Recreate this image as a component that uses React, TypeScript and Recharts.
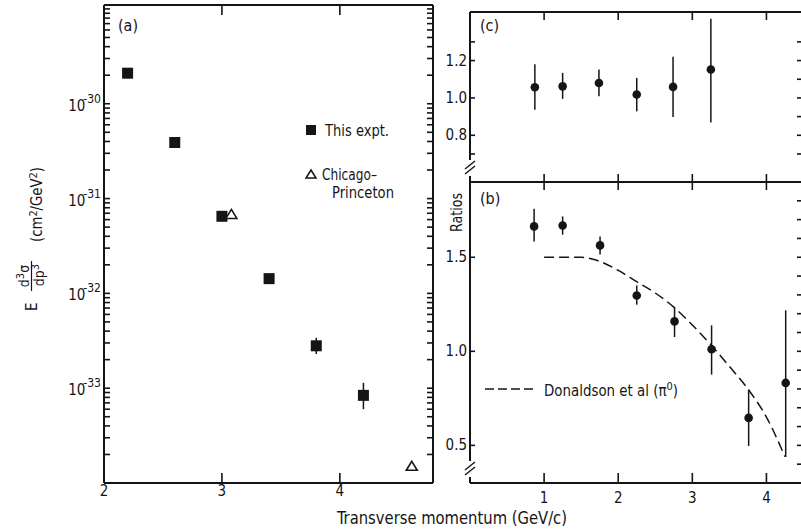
import React from 'react';
import { ScatterChart, ComposedChart, Scatter, Line, XAxis, YAxis, ErrorBar } from 'recharts';

const FONT = '"Liberation Sans Narrow", "DejaVu Sans Condensed", "Roboto Condensed", sans-serif';
const INK = '#151515';

// (a) invariant cross section, this experiment (pT in GeV/c, cm^2/GeV^2)
const ptA = [2.2, 2.6, 3.0, 3.4, 3.8, 4.2];
const sigmaA = [2.1e-30, 3.9e-31, 6.5e-32, 1.43e-32, 2.8e-33, 8.4e-34];
const sigmaLoA = [2.1e-30, 3.9e-31, 6.5e-32, 1.43e-32, 2.3e-33, 6.0e-34];
const sigmaHiA = [2.1e-30, 3.9e-31, 6.5e-32, 1.43e-32, 3.4e-33, 1.14e-33];

// (a) Chicago-Princeton
const ptCP = [3.08, 4.61];
const sigmaCP = [6.8e-32, 1.5e-34];

// (a) axis ticks
const decadesA = [-34, -33, -32, -31, -30];
const mantissasA = [1, 2, 3, 4, 5, 6, 7, 8, 9];
const labelledDecadesA = [-33, -32, -31, -30];
const xTicksA = [2, 3, 4];
const xTopTicksA = [3, 4];

// (c) ratios
const ptC = [0.875, 1.25, 1.74, 2.25, 2.74, 3.25];
const ratioC = [1.057, 1.062, 1.08, 1.018, 1.059, 1.152];
const ratioLoC = [0.937, 0.995, 1.009, 0.928, 0.898, 0.869];
const ratioHiC = [1.18, 1.134, 1.152, 1.107, 1.22, 1.424];

// (b) ratios
const ptB = [0.865, 1.25, 1.755, 2.25, 2.76, 3.26, 3.76, 4.26];
const ratioB = [1.664, 1.669, 1.563, 1.297, 1.159, 1.011, 0.646, 0.832];
const ratioLoB = [1.584, 1.62, 1.515, 1.248, 1.076, 0.876, 0.497, 0.439];
const ratioHiB = [1.758, 1.717, 1.61, 1.35, 1.235, 1.138, 0.797, 1.218];

// (b) Donaldson et al (pi0)
const donaldsonX = [1.0, 1.25, 1.5, 1.7, 2.0, 2.25, 2.5, 2.75, 3.0, 3.25, 3.5, 3.75, 4.0, 4.25];
const donaldsonY = [1.5, 1.5, 1.5, 1.485, 1.43, 1.37, 1.31, 1.235, 1.14, 1.035, 0.92, 0.8, 0.65, 0.44];

// right panels axis ticks
const xTicksR = [1, 2, 3, 4];
const yTicksCLeft = [0.7, 0.8, 1.0, 1.2, 1.3];
const yLabelsC = [0.8, 1.0, 1.2];
const yTicksCRight = [0.7, 0.8, 0.9, 1.0, 1.1, 1.2, 1.3];
const yTicksBLeft = [0.5, 1.0, 1.5];
const yTicksBRight = [0.4, 0.5, 0.6, 0.7, 0.8, 0.9, 1.0, 1.1, 1.2, 1.3, 1.4, 1.5, 1.6, 1.7, 1.8];

const withErr = (xs: number[], ys: number[], lo: number[], hi: number[]) =>
  xs.map((x, i) => ({ x, y: ys[i], err: [ys[i] - lo[i], hi[i] - ys[i]] }));

const dataA = withErr(ptA, sigmaA, sigmaLoA, sigmaHiA);
const dataCP = ptCP.map((x, i) => ({ x, y: sigmaCP[i] }));
const dataC = withErr(ptC, ratioC, ratioLoC, ratioHiC);
const dataB = withErr(ptB, ratioB, ratioLoB, ratioHiB);
const dataCurve = donaldsonX.map((x, i) => ({ x, y: donaldsonY[i] }));

const yTicksA = [
  ...decadesA.flatMap(d => mantissasA.map(m => m * Math.pow(10, d))),
  1e-29,
];

const axisLine = { stroke: INK, strokeWidth: 2 };

type Side = 'left' | 'right' | 'top' | 'bottom';
const inward: Record<Side, [number, number]> = { left: [1, 0], right: [-1, 0], top: [0, 1], bottom: [0, -1] };

// tick drawn by hand: the mark points into the plot, the label sits outside
const makeTick = (side: Side, len: number, label?: (v: number) => React.ReactNode, off = 0) => (p: any) => {
  const { x, y, payload } = p;
  const [dx, dy] = inward[side];
  const txt = label ? label(payload.value) : null;
  return (
    <g>
      <line x1={x} y1={y} x2={x + dx * len} y2={y + dy * len} stroke={INK} strokeWidth={1.6} />
      {txt !== null && txt !== '' && (side === 'left' ? (
        <text x={x - 3} y={y + off} textAnchor="end" fill={INK} fontFamily={FONT} fontSize={15}>{txt}</text>
      ) : (
        <text x={x} y={y + off} textAnchor="middle" fill={INK} fontFamily={FONT} fontSize={15}>{txt}</text>
      ))}
    </g>
  );
};

const logLabel = (v: number) => {
  const exp = Math.round(Math.log10(v));
  if (Math.abs(Math.log10(v) - exp) > 1e-6 || !labelledDecadesA.includes(exp)) return null;
  return (
    <>
      10<tspan dy={-8} dx={-2} fontSize={12}>{`-${-exp}`}</tspan>
    </>
  );
};
const fmtC = (v: number) => (yLabelsC.includes(v) ? v.toFixed(1) : null);
const fmt1 = (v: number) => v.toFixed(1);
const fmtInt = (v: number) => String(v);

const Square = (p: any) => <rect x={p.cx - 5.5} y={p.cy - 5.5} width={11} height={11} fill={INK} />;
const OpenTriangle = (p: any) => (
  <path
    d={`M${p.cx},${p.cy - 5} L${p.cx + 5.5},${p.cy + 4} L${p.cx - 5.5},${p.cy + 4} Z`}
    fill="#fff"
    stroke={INK}
    strokeWidth={1.6}
  />
);
const Dot = (p: any) => <circle cx={p.cx} cy={p.cy} r={4.3} fill={INK} />;

const BreakMark = ({ x, y }: { x: number; y: number }) => (
  <g>
    <rect x={x - 3} y={y - 6} width={6} height={16} fill="#fff" />
    <line x1={x - 5} y1={y + 3} x2={x + 5} y2={y - 5} stroke={INK} strokeWidth={1.5} />
    <line x1={x - 5} y1={y + 8} x2={x + 5} y2={y} stroke={INK} strokeWidth={1.5} />
  </g>
);

const flat = { tickLine: false, tickSize: 0, tickMargin: 0, interval: 0 as const, allowDataOverflow: true, axisLine };

export default function App() {
  return (
    <div style={{ position: 'absolute', left: 0, top: 0, width: 801, height: 531, overflow: 'hidden', background: '#fff' }}>
      {/* (a) cross section */}
      <div style={{ position: 'absolute', left: 0, top: 0 }}>
        <ScatterChart width={440} height={531} margin={{ top: 5, right: 7, bottom: 18, left: 0 }}>
          <XAxis xAxisId="b" dataKey="x" type="number" domain={[2, 4.79]} ticks={xTicksA} {...flat}
            tick={makeTick('bottom', 10, fmtInt, 13)} height={30} />
          <XAxis xAxisId="t" orientation="top" mirror dataKey="x" type="number" domain={[2, 4.79]}
            ticks={xTopTicksA} {...flat} tick={makeTick('top', 10)} />
          <YAxis yAxisId="l" dataKey="y" type="number" scale="log" domain={[1e-34, 1.1e-29]} ticks={yTicksA}
            {...flat} tick={makeTick('left', 6, logLabel, 7)} width={104} />
          <YAxis yAxisId="r" orientation="right" mirror dataKey="y" type="number" scale="log"
            domain={[1e-34, 1.1e-29]} ticks={yTicksA} {...flat} tick={makeTick('right', 6)} />
          <Scatter xAxisId="b" yAxisId="l" data={dataA} shape={Square} isAnimationActive={false}>
            <ErrorBar dataKey="err" direction="y" width={0} stroke={INK} strokeWidth={1.5} isAnimationActive={false} />
          </Scatter>
          <Scatter xAxisId="b" yAxisId="l" data={dataCP} shape={OpenTriangle} isAnimationActive={false} />
        </ScatterChart>
      </div>

      {/* (c) ratios */}
      <div style={{ position: 'absolute', left: 420, top: 0 }}>
        <ScatterChart width={390} height={200} margin={{ top: 12, right: 8, bottom: 18, left: 0 }}>
          <XAxis xAxisId="b" mirror dataKey="x" type="number" domain={[0, 4.48]} ticks={xTicksR} {...flat}
            tick={makeTick('bottom', 8)} />
          <XAxis xAxisId="t" orientation="top" mirror dataKey="x" type="number" domain={[0, 4.48]}
            ticks={xTicksR} {...flat} tick={makeTick('top', 8)} />
          <YAxis yAxisId="l" dataKey="y" type="number" domain={[0.55, 1.46]} ticks={yTicksCLeft} {...flat}
            tick={makeTick('left', 5, fmtC, 5)} width={50} />
          <YAxis yAxisId="r" orientation="right" mirror dataKey="y" type="number" domain={[0.55, 1.46]}
            ticks={yTicksCRight} {...flat} tick={makeTick('right', 5)} />
          <Scatter xAxisId="b" yAxisId="l" data={dataC} shape={Dot} isAnimationActive={false}>
            <ErrorBar dataKey="err" direction="y" width={0} stroke={INK} strokeWidth={1.5} isAnimationActive={false} />
          </Scatter>
        </ScatterChart>
      </div>

      {/* (b) ratios with Donaldson et al curve */}
      <div style={{ position: 'absolute', left: 420, top: 170 }}>
        <ComposedChart width={390} height={361} margin={{ top: 12, right: 8, bottom: 18, left: 0 }}>
          <XAxis xAxisId="b" dataKey="x" type="number" domain={[0, 4.48]} ticks={xTicksR} {...flat}
            tick={makeTick('bottom', 10, fmtInt, 20)} height={30} />
          <XAxis xAxisId="t" orientation="top" mirror dataKey="x" type="number" domain={[0, 4.48]}
            ticks={xTicksR} {...flat} tick={makeTick('top', 8)} />
          <YAxis yAxisId="l" dataKey="y" type="number" domain={[0.3, 1.9]} ticks={yTicksBLeft} {...flat}
            tick={makeTick('left', 5, fmt1, 5)} width={50} />
          <YAxis yAxisId="r" orientation="right" mirror dataKey="y" type="number" domain={[0.3, 1.9]}
            ticks={yTicksBRight} {...flat} tick={makeTick('right', 5)} />
          <Line xAxisId="b" yAxisId="l" data={dataCurve} dataKey="y" type="monotone" stroke={INK} strokeWidth={1.5}
            strokeDasharray="10 5" dot={false} activeDot={false} isAnimationActive={false} />
          <Scatter xAxisId="b" yAxisId="l" data={dataB} dataKey="y" shape={Dot} isAnimationActive={false}>
            <ErrorBar dataKey="err" direction="y" width={0} stroke={INK} strokeWidth={1.5} isAnimationActive={false} />
          </Scatter>
        </ComposedChart>
      </div>

      {/* annotations */}
      <svg width={801} height={531} style={{ position: 'absolute', left: 0, top: 0, pointerEvents: 'none' }}
        fontFamily={FONT} fill={INK}>
        <text x={118} y={31} fontSize={16}>(a)</text>
        <text x={480} y={31} fontSize={16}>(c)</text>
        <text x={480} y={204} fontSize={16}>(b)</text>

        {/* legend (a) */}
        <rect x={306} y={125} width={10} height={10} fill={INK} />
        <text x={325} y={136} fontSize={15} textLength={64} lengthAdjust="spacingAndGlyphs">This expt.</text>
        <path d="M311,170 L316,178 L306,178 Z" fill="none" stroke={INK} strokeWidth={1.5} />
        <text x={322} y={180} fontSize={15} textLength={55} lengthAdjust="spacingAndGlyphs">Chicago–</text>
        <text x={332} y={198} fontSize={15} textLength={62} lengthAdjust="spacingAndGlyphs">Princeton</text>

        {/* legend (b) */}
        <line x1={485} y1={389} x2={537} y2={389} stroke={INK} strokeWidth={1.5} strokeDasharray="9 4" />
        <text x={544} y={396} fontSize={15} textLength={134} lengthAdjust="spacingAndGlyphs">
          Donaldson et al (π<tspan dy={-6} fontSize={11}>0</tspan><tspan dy={6}>)</tspan>
        </text>

        {/* axis titles */}
        <text x={337} y={524} fontSize={17} textLength={230} lengthAdjust="spacingAndGlyphs">Transverse momentum (GeV/c)</text>
        <g transform="translate(462,232) rotate(-90)">
          <text x={0} y={0} fontSize={15} textLength={39} lengthAdjust="spacingAndGlyphs">Ratios</text>
        </g>
        <g transform="translate(37,311) rotate(-90)">
          <text x={0} y={0} fontSize={15}>E</text>
          <text x={35} y={-8} fontSize={14} textAnchor="middle">
            d<tspan dy={-5} fontSize={11}>3</tspan><tspan dy={5}>σ</tspan>
          </text>
          <line x1={20} y1={-5.5} x2={50} y2={-5.5} stroke={INK} strokeWidth={1.2} />
          <text x={36} y={7} fontSize={14} textAnchor="middle">
            dp<tspan dy={-5} fontSize={11}>3</tspan>
          </text>
          <text x={69} y={5} fontSize={15} textLength={75} lengthAdjust="spacingAndGlyphs">
            (cm<tspan dy={-5} fontSize={11}>2</tspan><tspan dy={5}>/GeV</tspan><tspan dy={-5} fontSize={11}>2</tspan><tspan dy={5}>)</tspan>
          </text>
        </g>

        {/* axis breaks */}
        <BreakMark x={470} y={166} />
        <BreakMark x={470} y={467} />
      </svg>
    </div>
  );
}
